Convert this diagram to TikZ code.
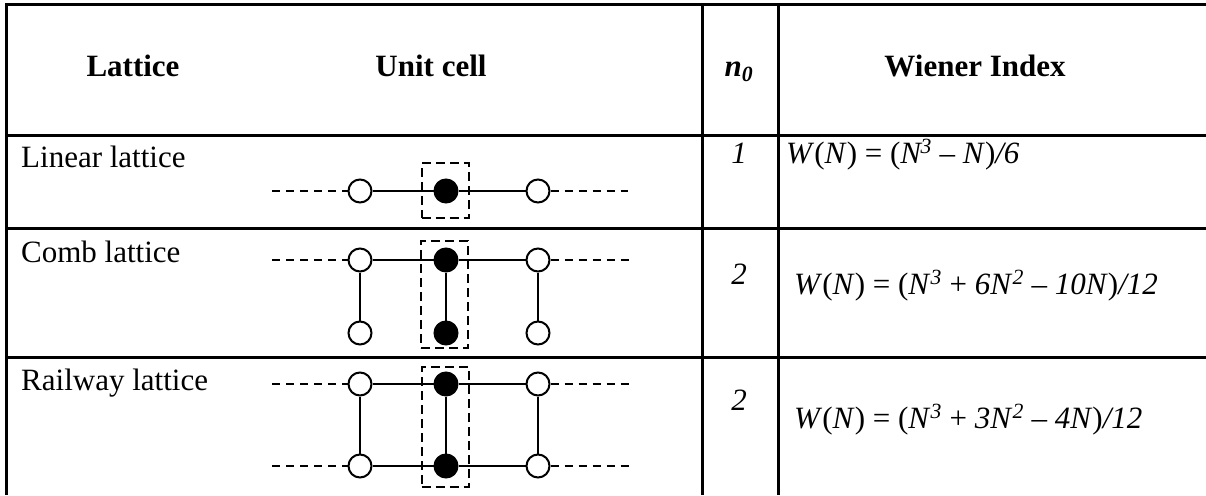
\documentclass[tikz,border=0pt]{standalone}
\usepackage{fontspec}
\setmainfont{Liberation Serif}
\begin{document}
\begin{tikzpicture}[x=1pt,y=-1pt,
  rule/.style={line width=3pt},
  txt/.style={inner sep=0pt, font=\fontsize{31}{36}\selectfont},
  hdr/.style={inner sep=0pt, font=\fontsize{31}{36}\selectfont\bfseries},
  site/.style={circle, draw, line width=2pt, minimum size=23pt, inner sep=0pt, fill=white},
  cellsite/.style={site, fill=black},
  bond/.style={line width=2pt},
  ext/.style={line width=2pt, dash pattern=on 8pt off 6pt},
  cellbox/.style={draw, line width=2pt, dash pattern=on 9pt off 5pt, inner sep=0pt, minimum width=47pt}
]
\useasboundingbox (0,0) rectangle (1206,495);
% table rules
\draw[rule] (1206,5) -- (6,5) -- (6,495);
\draw[rule] (6,135) -- (1206,135);
\draw[rule] (6,228) -- (1206,228);
\draw[rule] (6,357) -- (1206,357);
\draw[rule] (702,5) -- (702,495);
\draw[rule] (778,5) -- (778,495);
% header
\node[hdr, anchor=base] (hLat) at (133,76) {Lattice};
\node[hdr, anchor=base] (hCell) at (431,76) {Unit cell};
\node[hdr, anchor=base] (hN) at (739,76) {\textit{n}\textsubscript{\textit{0}}};
\node[hdr, anchor=base] (hW) at (975,76) {Wiener Index};
% row labels
\node[txt, anchor=base west] (lLin) at (21,167) {Linear lattice};
\node[txt, anchor=base west] (lComb) at (21,262) {Comb lattice};
\node[txt, anchor=base west] (lRail) at (21,390) {Railway lattice};
% n0 values
\node[txt, anchor=base] (nLin) at (739,163) {\textit{1}};
\node[txt, anchor=base] (nComb) at (739,284) {\textit{2}};
\node[txt, anchor=base] (nRail) at (739,410) {\textit{2}};
% formulas
\node[txt, anchor=base west] (fLin) at (786,163) {\textit{W}(\textit{N}) = (\textit{N}\kern-2pt\textsuperscript{\textit{3}} -- \textit{N})\textit{/6}};
\node[txt, anchor=base west] (fComb) at (794,294) {\textit{W}(\textit{N}) = (\textit{N}\textsuperscript{\textit{3}} + \textit{6N}\textsuperscript{\textit{2}} -- \textit{10N})\textit{/12}};
\node[txt, anchor=base west] (fRail) at (794,428) {\textit{W}(\textit{N}) = (\textit{N}\textsuperscript{\textit{3}} + \textit{3N}\textsuperscript{\textit{2}} -- \textit{4N})\textit{/12}};
% linear lattice
\node[site] (a1) at (360,191) {};
\node[cellsite] (a2) at (446,191) {};
\node[site] (a3) at (538,191) {};
\coordinate (a0) at (272,191);
\coordinate (a4) at (628,191);
\draw[ext] (a0) -- (a1);
\draw[ext] (a3) -- (a4);
\draw[bond] (a1) -- (a2);
\draw[bond] (a2) -- (a3);
\node[cellbox, minimum height=55pt] (boxLin) at (445,190.5) {};
% comb lattice
\node[site] (b1) at (360,260) {};
\node[cellsite] (b2) at (446,260) {};
\node[site] (b3) at (538,260) {};
\node[site] (c1) at (360,333) {};
\node[cellsite] (c2) at (446,333) {};
\node[site] (c3) at (538,333) {};
\coordinate (b0) at (272,260);
\coordinate (b4) at (629,260);
\draw[ext] (b0) -- (b1);
\draw[ext] (b3) -- (b4);
\draw[bond] (b1) -- (b2);
\draw[bond] (b2) -- (b3);
\draw[bond] (b1) -- (c1);
\draw[bond] (b2) -- (c2);
\draw[bond] (b3) -- (c3);
\node[cellbox, minimum height=107pt] (boxComb) at (444.5,294.5) {};
% railway lattice
\node[site] (d1) at (360,384) {};
\node[cellsite] (d2) at (446,384) {};
\node[site] (d3) at (538,384) {};
\node[site] (e1) at (360,466) {};
\node[cellsite] (e2) at (446,466) {};
\node[site] (e3) at (538,466) {};
\coordinate (d0) at (272,384);
\coordinate (d4) at (630,384);
\coordinate (e0) at (272,466);
\coordinate (e4) at (630,466);
\draw[ext] (d0) -- (d1);
\draw[ext] (d3) -- (d4);
\draw[ext] (e0) -- (e1);
\draw[ext] (e3) -- (e4);
\draw[bond] (d1) -- (d2);
\draw[bond] (d2) -- (d3);
\draw[bond] (e1) -- (e2);
\draw[bond] (e2) -- (e3);
\draw[bond] (d1) -- (e1);
\draw[bond] (d2) -- (e2);
\draw[bond] (d3) -- (e3);
\node[cellbox, minimum height=120pt] (boxRail) at (445,427) {};
\end{tikzpicture}
\end{document}
